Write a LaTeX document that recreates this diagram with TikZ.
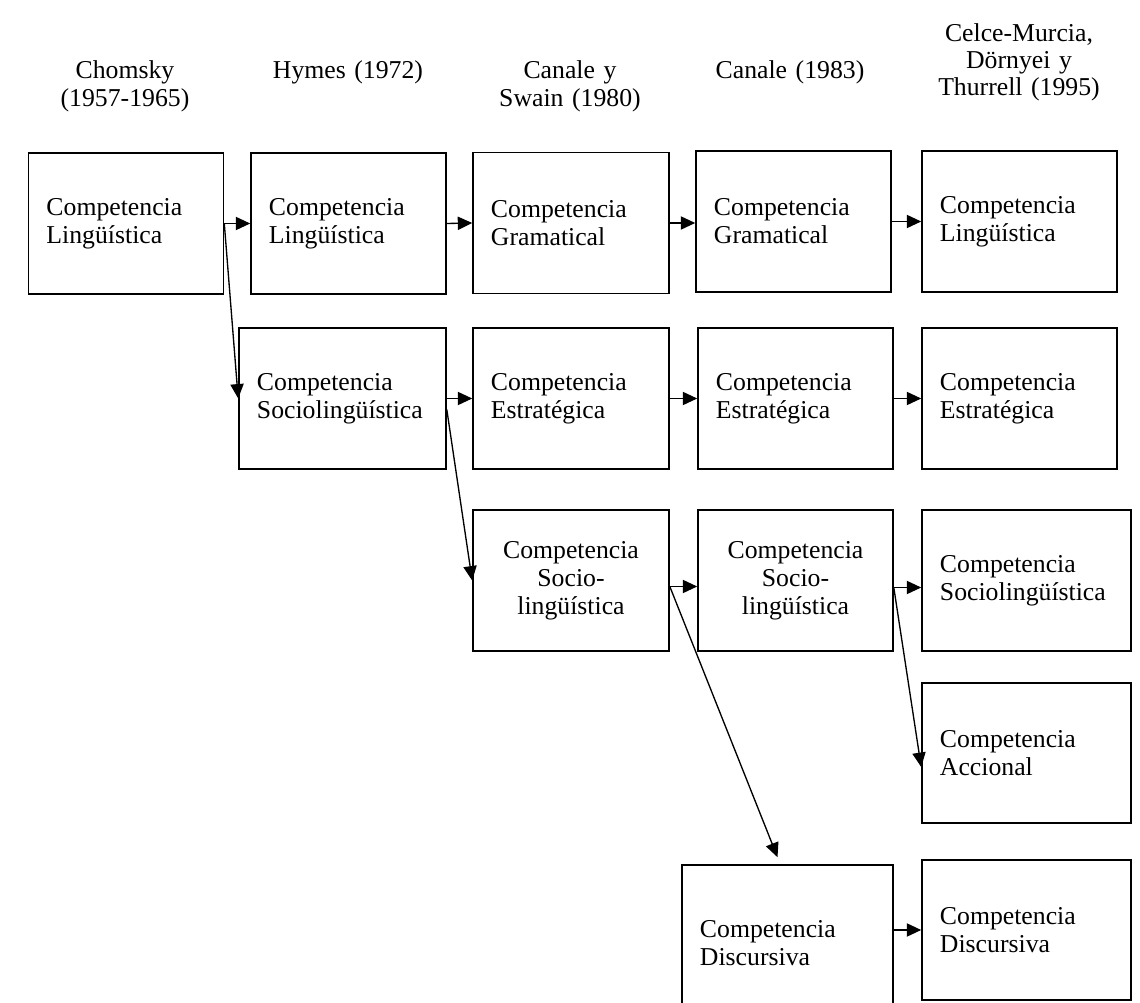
\documentclass[tikz,border=0pt]{standalone}
\usepackage{fontspec}
\setmainfont{Liberation Serif}[WordSpace=0.85]
\usetikzlibrary{arrows.meta,calc}

\begin{document}
\begin{tikzpicture}[
  x=0.025cm, y=-0.025cm,
  >={Triangle[length=0.36cm,width=0.33cm]},
  font=\fontsize{18.3pt}{19.9pt}\selectfont,
  head/.style={align=center,text width=6cm,inner sep=0pt,anchor=base},
  comp/.style={draw,line width=1.1pt,text width=#1,inner xsep=0.45cm,
    inner ysep=2pt,minimum height=3.525cm,align=left},
  comp/.default=3.975cm,
  link/.style={->,line width=0.95pt}]

  \clip (0,0) rectangle (1140,1003);

  % ---- column headers ----
  \node[head] (hchom) at (125,79) {Chomsky\\(1957-1965)};
  \node[head] (hhym) at (348,79) {Hymes (1972)};
  \node[head] (hcs) at (570,79) {Canale y\\Swain (1980)};
  \node[head] (hca) at (790,79) {Canale (1983)};
  \node[head,font=\fontsize{18.3pt}{18.9pt}\selectfont] (hcd) at (1019,42)
    {Celce-Murcia,\\Dörnyei y\\Thurrell (1995)};

  % ---- Chomsky / Hymes ----
  \node[comp] (chom) at (126,223.5) {Competencia\\Lingüística};
  \node[comp] (hymLin) at (348.5,223.5) {Competencia\\Lingüística};
  \node[comp=4.275cm] (hymSoc) at (342.5,398.5) {Competencia\\Sociolingüística};

  % ---- Canale y Swain ----
  \node[comp=4cm] (csGram) at (571,223) {Competencia\\Gramatical};
  \node[comp=4cm] (csEst) at (571,398.5) {Competencia\\Estratégica};
  \node[comp=4cm,align=center] (csSoc) at (571,580.5) {Competencia\\Socio-\\lingüística};

  % ---- Canale ----
  \node[comp] (caGram) at (793.5,221.5) {Competencia\\Gramatical};
  \node[comp] (caEst) at (795.5,398.5) {Competencia\\Estratégica};
  \node[comp,align=center] (caSoc) at (795.5,580.5) {Competencia\\Socio-\\lingüística};
  \node[comp=4.375cm,minimum height=3.9cm] (caDis) at (787.5,943) {Competencia\\Discursiva};

  % ---- Celce-Murcia et al. ----
  \node[comp] (cdLin) at (1019.5,221.5) {Competencia\\Lingüística};
  \node[comp] (cdEst) at (1019.5,398.5) {Competencia\\Estratégica};
  \node[comp=4.325cm] (cdSoc) at (1026.5,580.5) {Competencia\\Sociolingüística};
  \node[comp=4.325cm,minimum height=3.5cm] (cdAcc) at (1026.5,753) {Competencia\\Accional};
  \node[comp=4.325cm,minimum height=3.5cm] (cdDis) at (1026.5,930) {Competencia\\Discursiva};

  % ---- arrows ----
  \draw[link] (chom.east) -- (hymLin.west);
  \draw[link] (chom.east) -- (hymSoc.west);
  \draw[link] (hymLin.east) -- (csGram.west);
  \draw[link] (csGram.east) -- (csGram.east -| caGram.west);
  \draw[link] (caGram.east) -- (cdLin.west);
  \draw[link] (hymSoc.east) -- (csEst.west);
  \draw[link] (csEst.east) -- (caEst.west);
  \draw[link] (caEst.east) -- (cdEst.west);
  \draw[link] ($(hymSoc.east)+(0,11)$) -- (csSoc.west);
  \draw[link] ($(csSoc.east)+(0,6)$) -- ($(caSoc.west)+(0,6)$);
  \draw[link] ($(csSoc.east)+(0,6)$) -- ($(caDis.north)+(-10,-7)$);
  \draw[link] ($(caSoc.east)+(0,7)$) -- ($(cdSoc.west)+(0,7)$);
  \draw[link] ($(caSoc.east)+(0,7)$) -- ($(cdAcc.west)+(0,14)$);
  \draw[link] (caDis.east |- cdDis.west) -- (cdDis.west);
\end{tikzpicture}
\end{document}
